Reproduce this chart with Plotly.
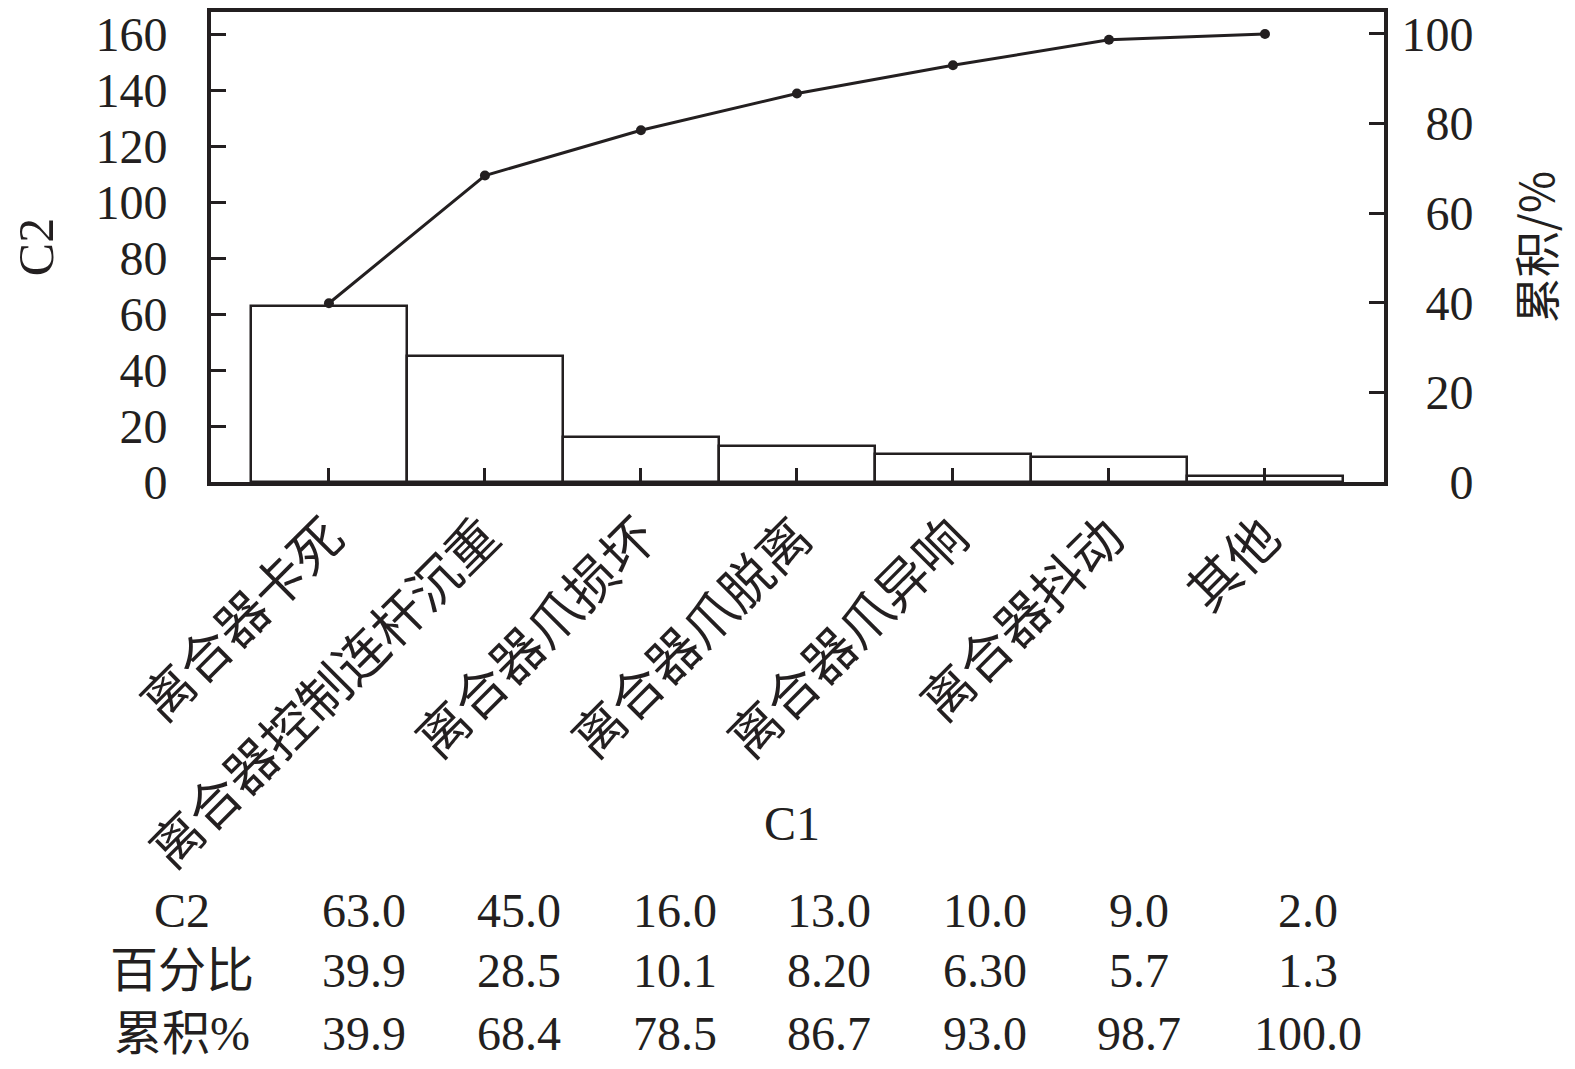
import plotly.graph_objects as go

categories = ["离合器卡死", "离合器控制连杆沉重", "离合器爪损坏", "离合器爪脱离",
              "离合器爪异响", "离合器抖动", "其他"]
counts = [63, 45, 16, 13, 10, 9, 2]
cumulative = [39.9, 68.4, 78.5, 86.7, 93.0, 98.7, 100.0]

row_names = ["C2", "百分比", "累积%"]
count_labels = ["63.0", "45.0", "16.0", "13.0", "10.0", "9.0", "2.0"]
pct_labels = ["39.9", "28.5", "10.1", "8.20", "6.30", "5.7", "1.3"]
cum_labels = ["39.9", "68.4", "78.5", "86.7", "93.0", "98.7", "100.0"]

left_ticks = [0, 20, 40, 60, 80, 100, 120, 140, 160]
right_ticks = [0, 20, 40, 60, 80, 100]

INK = "#231f20"
SERIF = "Liberation Serif, Noto Sans CJK SC"
CJK = "Noto Sans CJK SC"

W, H = 1575, 1069
L, R, T, B = 203, 199, 4, 595
DX, DY = 4, 5  # page rendering offset compensation

fig = go.Figure()
fig.add_bar(x=categories, y=counts, width=1,
            marker=dict(color="white", line=dict(color=INK, width=2.5)))
fig.add_scatter(x=categories, y=cumulative, yaxis="y2", mode="lines+markers",
                line=dict(color=INK, width=3), marker=dict(size=10, color=INK))

fs = "\u2007"
right_text = [fs * (3 - len(str(v))) + str(v) for v in right_ticks]

fig.update_layout(
    width=W, height=H,
    margin=dict(l=L, r=R, t=T, b=B, autoexpand=False),
    plot_bgcolor="white", paper_bgcolor="white",
    showlegend=False, bargap=0,
    font=dict(family=SERIF, color=INK, size=48),
    xaxis=dict(range=[-0.756, 6.763], showline=True, linewidth=4, linecolor=INK,
               mirror=True, ticks="inside", ticklen=14, tickwidth=3, tickcolor=INK,
               tickangle=-45, tickfont=dict(family=CJK, size=52, color=INK),
               showgrid=False, zeroline=False),
    yaxis=dict(range=[0, 168.1], tickvals=left_ticks, showline=True, linewidth=4,
               linecolor=INK, ticks="inside", ticklen=15, tickwidth=3, tickcolor=INK,
               tickfont=dict(family=SERIF, size=48, color=INK), ticklabelstandoff=30,
               ticklabeloverflow="allow",
               showgrid=False, zeroline=False,
               title=dict(text="C2", font=dict(family=SERIF, size=50, color=INK), standoff=30)),
    yaxis2=dict(range=[0, 104.9], overlaying="y", side="right", tickvals=right_ticks,
                ticktext=right_text, showline=True, linewidth=4, linecolor=INK,
                ticks="inside", ticklen=15, tickwidth=3, tickcolor=INK,
                tickfont=dict(family=SERIF, size=48, color=INK), ticklabelstandoff=4,
                ticklabeloverflow="allow",
                showgrid=False, zeroline=False,
                title=dict(text="累积/%", font=dict(family=CJK, size=46, color=INK), standoff=50)),
)

pw = W - L - R
ph = H - T - B

def px_to_paper(xp, yp):
    return (xp - DX - L) / pw, (H - B - (yp - DY)) / ph

# x-axis title
ax, ay = px_to_paper(788, 820)
fig.add_annotation(x=ax, y=ay, xref="paper", yref="paper", text="C1", showarrow=False,
                   font=dict(family=SERIF, size=48, color=INK), xanchor="center", yanchor="middle")

col_x = [360, 515, 671, 825, 981, 1135, 1304]
row_y = [907, 968, 1030]
rows = [count_labels, pct_labels, cum_labels]
for name, vals, yp in zip(row_names, rows, row_y):
    nx, ny = px_to_paper(178, yp)
    fig.add_annotation(x=nx, y=ny, xref="paper", yref="paper", text=name, showarrow=False,
                       font=dict(family=SERIF, size=48, color=INK), xanchor="center", yanchor="middle")
    for v, xp in zip(vals, col_x):
        vx, vy = px_to_paper(xp, yp)
        fig.add_annotation(x=vx, y=vy, xref="paper", yref="paper", text=v, showarrow=False,
                           font=dict(family=SERIF, size=48, color=INK), xanchor="center", yanchor="middle")

fig.write_html("out.html")
